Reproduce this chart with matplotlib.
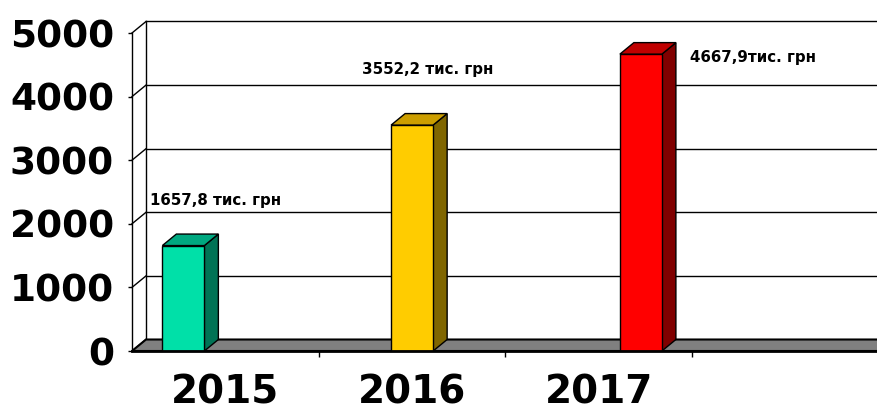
import matplotlib.pyplot as plt
from matplotlib.patches import Polygon

# data
years = ['2015', '2016', '2017', '']
values = [1657.8, 3552.2, 4667.9]
value_labels = ['1657,8 тис. грн', '3552,2 тис. грн', '4667,9тис. грн']
y_ticks = [0, 1000, 2000, 3000, 4000, 5000]

# styling
front_colors = ['#00E0A8', '#FFCC00', '#FF0000']
side_colors = ['#007355', '#806600', '#800000']
top_colors = ['#00A880', '#CC9E00', '#C00000']
label_pos = [(-0.405, 2370), (0.73, 4420), (2.49, 4620)]
bar_w = 0.225

fig = plt.figure(figsize=(8.77, 4.13), dpi=100)
ax = fig.add_axes([132 / 877, 62 / 413, 747 / 877, 318 / 413])
ax.set_xlim(-0.5, 3.5)
ax.set_ylim(0, 5000)

# depth of the 3d box in data units
dx = 14 / 747 * 4
dy = 11.5 / 318 * 5000
x0, x1 = -0.5, 3.5

# back wall with gridlines
ax.plot([x0 + dx, x0 + dx], [dy, 5000 + dy], color='black', lw=1, clip_on=False, zorder=1)
for t in y_ticks:
    ax.plot([x0 + dx, x1 + dx], [t + dy, t + dy], color='black', lw=1, clip_on=False, zorder=1)
    ax.plot([x0, x0 + dx], [t, t + dy], color='black', lw=1, clip_on=False, zorder=1)

# floor
floor = Polygon([(x0, 0), (x1, 0), (x1 + dx, dy), (x0 + dx, dy)], closed=True,
                facecolor='#808080', edgecolor='black', lw=1.5, clip_on=False, zorder=2)
ax.add_patch(floor)

# three series, one bar each, clustered in its own year
for i, v in enumerate(values):
    xc = i + (i - 1) * bar_w
    b = ax.bar(xc, v, bar_w, color=front_colors[i], edgecolor='black', lw=1, zorder=4)[0]
    l, r = b.get_x(), b.get_x() + b.get_width()
    side = Polygon([(r, 0), (r + dx, dy), (r + dx, v + dy), (r, v)], closed=True,
                   facecolor=side_colors[i], edgecolor='black', lw=1, clip_on=False, zorder=3)
    top = Polygon([(l, v), (r, v), (r + dx, v + dy), (l + dx, v + dy)], closed=True,
                  facecolor=top_colors[i], edgecolor='black', lw=1, clip_on=False, zorder=4)
    ax.add_patch(side)
    ax.add_patch(top)
    ax.text(label_pos[i][0], label_pos[i][1], value_labels[i], fontsize=10.8,
            fontweight='bold', ha='left', va='center', zorder=5)

for s in ['top', 'right']:
    ax.spines[s].set_visible(False)
ax.spines['left'].set_linewidth(1)
ax.spines['bottom'].set_linewidth(2)
ax.spines['left'].set_zorder(2)
ax.spines['bottom'].set_zorder(5)

ax.set_yticks(y_ticks)
ax.set_yticklabels([str(t) for t in y_ticks], fontsize=27, fontweight='heavy')
ax.tick_params(axis='y', length=3, width=1, pad=10)

ax.set_xticks(range(len(years)))
ax.set_xticklabels(years, fontsize=28, fontweight='heavy')
ax.set_xticks([k + 0.5 for k in range(3)], minor=True)
ax.tick_params(axis='x', which='major', length=0, pad=16)
ax.tick_params(axis='x', which='minor', length=4, width=1)

fig.savefig('out.png', dpi=100)
